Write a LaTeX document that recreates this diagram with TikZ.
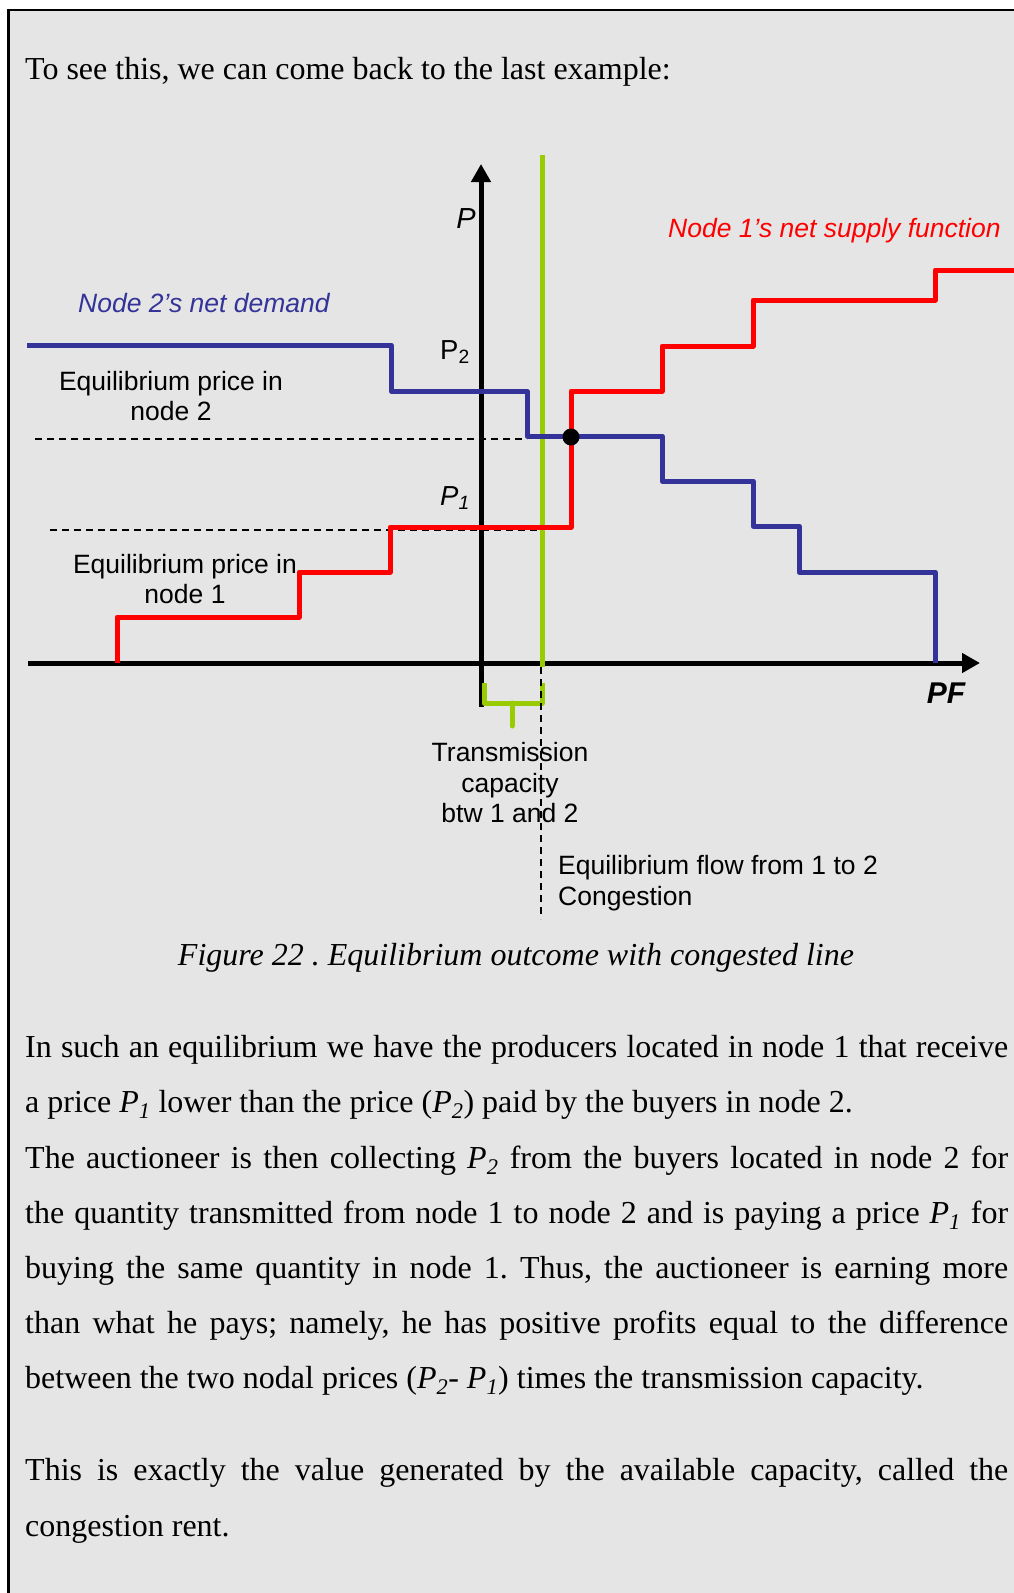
\documentclass[tikz,border=0pt]{standalone}
\usepackage{fontspec}
\setmainfont{Liberation Serif}
\newfontfamily\arialfont{Liberation Sans}
\usetikzlibrary{arrows.meta}
\definecolor{pagegray}{HTML}{E5E5E5}
\definecolor{demandblue}{HTML}{333399}
\definecolor{supplyred}{HTML}{FF0000}
\definecolor{capgreen}{HTML}{99CC00}
\frenchspacing
% one justified line of the body text
\newcommand\jline[1]{\makebox[983pt][s]{#1}}
\newcommand\Psub[1]{\textit{P}\textsubscript{\textit{#1}}}

\begin{document}
\begin{tikzpicture}[x=1pt,y=-1pt,
  body/.style={anchor=base west, inner sep=0pt, font=\fontsize{32}{36}\selectfont},
  lbl/.style={inner sep=0pt, font=\arialfont\fontsize{26.5}{30.5}\selectfont},
  curve/.style={line width=5pt, line join=round},
  axis/.style={line width=5pt, -{Triangle[length=18pt,width=19pt]}},
  guide/.style={line width=1.5pt, dash pattern=on 7pt off 5pt},
  bracket/.style={capgreen, line width=5pt, line join=round},
]
\useasboundingbox (0,0) rectangle (1013,1593);
\fill[white] (0,0) rectangle (1013,1593);
\fill[pagegray] (8.7,10.2) rectangle (1030,1610);
\draw[line width=2.5pt] (8.7,1610) -- (8.7,10.2) -- (1030,10.2);

% text above the chart
\node[body] (intro) at (25,79) {To see this, we can come back to the last example:};

% dashed price guides
\draw[guide] (35,439) -- (527,439);
\draw[guide] (50,530) -- (542,530);

% axes
\draw[axis] (481,707) -- (481,164);
\draw[axis] (28,663) -- (980,663);

% transmission capacity line
\draw[capgreen, line width=5pt] (542,155) -- (542,667);

% node 2 net demand
\draw[curve, demandblue] (27,345) -- (391,345) -- (391,391) -- (527,391) -- (527,436)
  -- (662,436) -- (662,481) -- (753,481) -- (753,526) -- (799,526) -- (799,572)
  -- (935,572) -- (935,663);

% node 1 net supply
\draw[curve, supplyred] (117,663) -- (117,617) -- (299,617) -- (299,572) -- (390,572)
  -- (390,527) -- (571,527) -- (571,391) -- (662,391) -- (662,346) -- (753,346)
  -- (753,300) -- (935,300) -- (935,270) -- (1020,270);

% equilibrium point
\node[circle, fill=black, minimum size=17pt, inner sep=0pt] (eq) at (571,437) {};

% capacity bracket
\draw[bracket] (484,683) -- (484,703) -- (542,703) -- (542,683);
\draw[bracket, line cap=round] (512,703) -- (512,726);

% chart labels
\node[lbl, font=\arialfont\itshape\fontsize{29}{32}\selectfont] (lP) at (466,219) {P};
\node[lbl, supplyred, font=\arialfont\itshape\fontsize{26.5}{30.5}\selectfont, anchor=west] (lsupply) at (668,231) {Node 1’s net supply function};
\node[lbl, demandblue, font=\arialfont\itshape\fontsize{26.5}{30.5}\selectfont, anchor=west] (ldemand) at (78,303) {Node 2’s net demand};
\node[lbl, font=\arialfont\fontsize{27.5}{30.5}\selectfont] (lP2) at (455,352) {P\textsubscript{2}};
\node[lbl, font=\arialfont\itshape\fontsize{27.5}{30.5}\selectfont] (lP1) at (455,498) {P\textsubscript{1}};
\node[lbl, align=center] (lnode2) at (171,396) {Equilibrium price in\\node 2};
\node[lbl, align=center] (lnode1) at (185,579) {Equilibrium price in\\node 1};
\node[lbl, font=\arialfont\bfseries\itshape\fontsize{30}{32}\selectfont] (lPF) at (946,693) {PF};
\node[lbl, align=center] (lcap) at (510,783) {Transmission\\capacity\\btw 1 and 2};
\node[lbl, align=left, anchor=west] (lflow) at (558,883) {Equilibrium flow from 1 to 2\\Congestion};

% equilibrium flow marker
\coordinate (flowtop) at (541,667);
\coordinate (flowbot) at (541,919);
\draw[guide] (flowtop) -- (flowbot);

% caption
\node[body, anchor=base] (caption) at (516,965) {\itshape Figure 22 . Equilibrium outcome with congested line};

% body text
\node[body] (t1) at (25,1057) {\jline{In such an equilibrium we have the producers located in node 1 that receive}};
\node[body] (t2) at (25,1112) {a price \Psub{1} lower than the price (\Psub{2}) paid by the buyers in node 2.};
\node[body] (t3) at (25,1168) {\jline{The auctioneer is then collecting \Psub{2} from the buyers located in node 2 for}};
\node[body] (t4) at (25,1223) {\jline{the quantity transmitted from node 1 to node 2 and is paying a price \Psub{1} for}};
\node[body] (t5) at (25,1278) {\jline{buying the same quantity in node 1. Thus, the auctioneer is earning more}};
\node[body] (t6) at (25,1333) {\jline{than what he pays; namely, he has positive profits equal to the difference}};
\node[body] (t7) at (25,1388) {between the two nodal prices (\Psub{2}- \Psub{1}) times the transmission capacity.};
\node[body] (t8) at (25,1480) {\jline{This is exactly the value generated by the available capacity, called the}};
\node[body] (t9) at (25,1536) {congestion rent.};
\end{tikzpicture}
\end{document}
